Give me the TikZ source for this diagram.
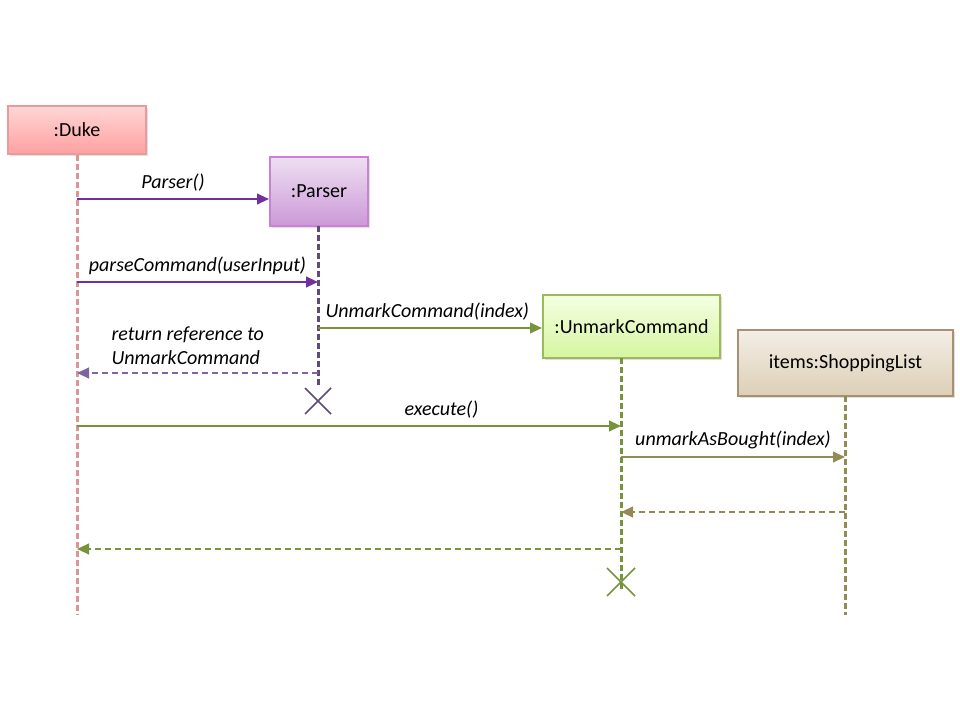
\documentclass[tikz,border=0pt]{standalone}
\usepackage{fontspec}
\setmainfont{Carlito}
\usetikzlibrary{arrows.meta,shadows,calc}
\definecolor{dukeB}{HTML}{E99A9A}
\definecolor{dukeT}{HTML}{FFD6D6}
\definecolor{dukeM}{HTML}{FFA0A0}
\definecolor{dukeL}{HTML}{D99694}
\definecolor{parB}{HTML}{CC7FD6}
\definecolor{parT}{HTML}{EEDFF1}
\definecolor{parM}{HTML}{CC99D8}
\definecolor{parL}{HTML}{604A7B}
\definecolor{purp}{HTML}{7030A0}
\definecolor{purpR}{HTML}{8064A2}
\definecolor{unB}{HTML}{9BBB59}
\definecolor{unT}{HTML}{F4FFE2}
\definecolor{unM}{HTML}{D6F5A0}
\definecolor{grn}{HTML}{77933C}
\definecolor{shB}{HTML}{A89070}
\definecolor{shT}{HTML}{F3EEE6}
\definecolor{shM}{HTML}{DDCFB6}
\definecolor{olv}{HTML}{948A54}
\begin{document}
\begin{tikzpicture}[x=0.75pt,y=-0.75pt,
  font=\fontsize{15}{18}\selectfont,
  obj/.style={draw,line width=1.5pt,inner sep=0pt,align=center,
     drop shadow={shadow xshift=1.5pt,shadow yshift=-1.5pt,opacity=0.25}},
  life/.style={line width=2.25pt,dash pattern=on 4.5pt off 2.25pt},
  msg/.style={line width=1.5pt,-{Triangle[length=9pt,width=8pt]}},
  ret/.style={msg,dash pattern=on 4.5pt off 3pt},
  lbl/.style={font=\fontsize{15}{18}\selectfont\itshape,inner sep=1pt},
  xmark/.style={line width=1.2pt}]
\useasboundingbox (0,0) rectangle (960,720);
% objects
\node[obj,draw=dukeB,top color=dukeT,bottom color=dukeM,minimum width=103.5pt,minimum height=36pt] (duke) at (77,130) {:Duke};
\node[obj,draw=parB,top color=parT,bottom color=parM,minimum width=73.5pt,minimum height=51.75pt] (parser) at (319,191.5) {:Parser};
\node[obj,draw=unB,top color=unT,bottom color=unM,minimum width=132.75pt,minimum height=47.25pt] (unmark) at (631.5,326.5) {:UnmarkCommand};
\node[obj,draw=shB,top color=shT,bottom color=shM,minimum width=161.25pt,minimum height=49.5pt] (shop) at (845.5,363) {items:ShoppingList};
% lifeline ends
\coordinate (dukeEnd) at (77,615);
\coordinate (parEnd) at (318,388);
\coordinate (unEnd) at (621,590);
\coordinate (shEnd) at (845,615);
\coordinate (parTop) at (318,226);
\coordinate (unTop) at (621,358);
\coordinate (shTop) at (845,396);
\draw[life,draw=dukeL] (duke.south) -- (dukeEnd);
\draw[life,draw=parL] (parTop) -- (parEnd);
\draw[life,draw=grn] (unTop) -- (unEnd);
\draw[life,draw=olv] (shTop) -- (shEnd);
% destruction marks
\coordinate (px) at (318,401);
\coordinate (ux) at (621,582);
\draw[xmark,draw=parL] ($(px)+(-13,-13)$) -- ($(px)+(13,13)$) ($(px)+(-13,13)$) -- ($(px)+(13,-13)$);
\draw[xmark,draw=grn] ($(ux)+(-14,-14)$) -- ($(ux)+(14,14)$) ($(ux)+(-14,14)$) -- ($(ux)+(14,-14)$);
% message anchor coordinates
\coordinate (m1a) at (77,199);
\coordinate (m2a) at (77,282);
\coordinate (m2b) at (318,282);
\coordinate (m3a) at (318,328);
\coordinate (m4a) at (318,373);
\coordinate (m4b) at (77,373);
\coordinate (m5a) at (77,426);
\coordinate (m5b) at (621,426);
\coordinate (m6a) at (621,457);
\coordinate (m6b) at (845,457);
\coordinate (m7a) at (845,512);
\coordinate (m7b) at (621,512);
\coordinate (m8a) at (621,549);
\coordinate (m8b) at (77,549);
% messages
\draw[msg,draw=purp,-{Triangle[length=9pt,width=8pt,fill=purp]}] (m1a) -- (m1a -| parser.west) node[lbl,midway,above=4pt] {Parser()};
\draw[msg,draw=purp] (m2a) -- (m2b) node[lbl,midway,above=4pt] {parseCommand(userInput)};
\draw[msg,draw=grn] (m3a) -- (m3a -| unmark.west) node[lbl,midway,above=4pt,xshift=-2pt] {UnmarkCommand(index)};
\draw[ret,draw=purpR] (m4a) -- (m4b);
\node[lbl,anchor=west,align=left] (rlbl) at (110,346) {return reference to\\UnmarkCommand};
\draw[msg,draw=grn] (m5a) -- (m5b) node[lbl,pos=0.67,above=4pt] {execute()};
\draw[msg,draw=olv] (m6a) -- (m6b) node[lbl,midway,above=4pt] {unmarkAsBought(index)};
\draw[ret,draw=olv] (m7a) -- (m7b);
\draw[ret,draw=grn] (m8a) -- (m8b);
\end{tikzpicture}
\end{document}
